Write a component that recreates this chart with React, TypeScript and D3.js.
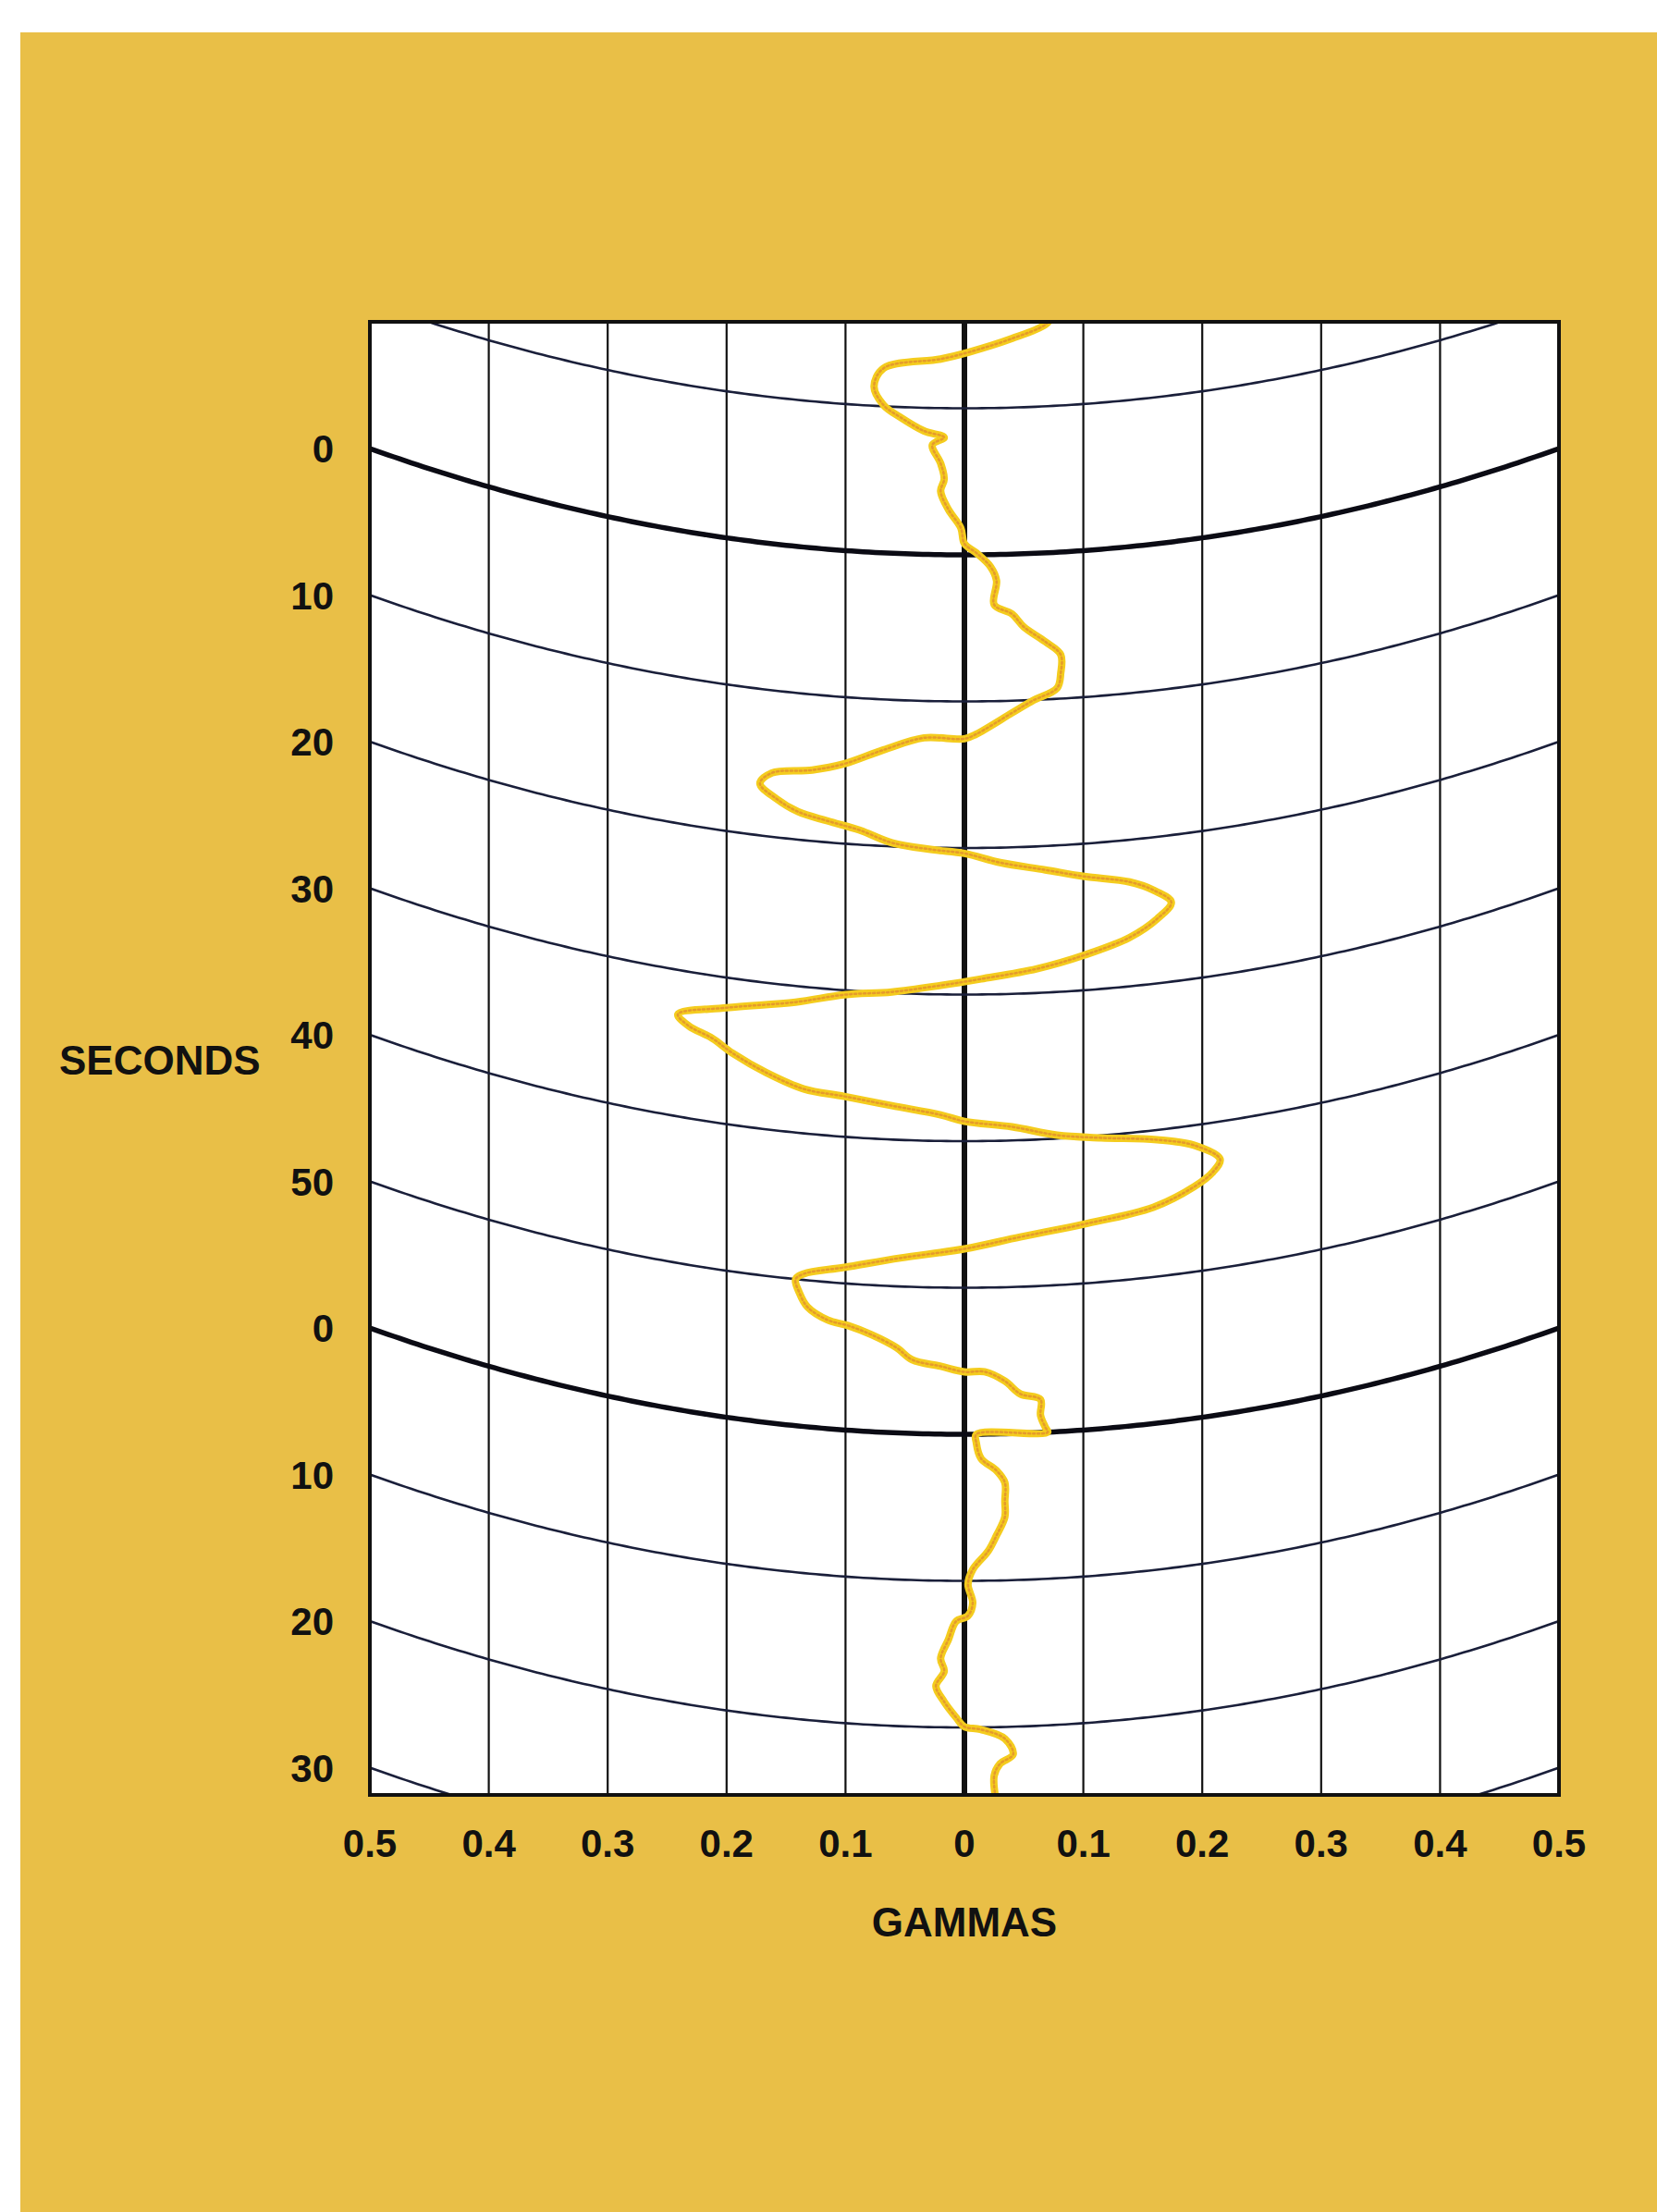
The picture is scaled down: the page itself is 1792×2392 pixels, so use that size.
import React from "react";
import * as d3 from "d3";

const W = 1792;
const H = 2392;

// Axis values
const gammaTicks = [-0.5, -0.4, -0.3, -0.2, -0.1, 0, 0.1, 0.2, 0.3, 0.4, 0.5];
const gammaTickLabels = ["0.5", "0.4", "0.3", "0.2", "0.1", "0", "0.1", "0.2", "0.3", "0.4", "0.5"];
const secondTicks = [0, 10, 20, 30, 40, 50, 60, 70, 80, 90];
const secondTickLabels = ["0", "10", "20", "30", "40", "50", "0", "10", "20", "30"];
const arcTimes = [-10, 0, 10, 20, 30, 40, 50, 60, 70, 80, 90];
const boldArcTimes = [0, 60];

// Recorded trace (gamma, seconds along the curved time grid)
const traceGamma = [
  0.075, 0.068, 0.04, 0.003, -0.02, -0.068, -0.076, -0.068, -0.054, -0.034, -0.017, -0.027, -0.02, -0.017, -0.02,
  -0.0135, -0.003, 0, 0.01, 0.022, 0.027, 0.025, 0.04, 0.05, 0.068, 0.081, 0.081, 0.078, 0.057, 0.04,
  0.01, 0, -0.034, -0.068, -0.101, -0.128, -0.162, -0.172, -0.158, -0.14, -0.115, -0.088, -0.061, -0.027, 0,
  0.03, 0.068, 0.101, 0.139, 0.159, 0.174, 0.162, 0.139, 0.101, 0.061, 0.014, -0.02, -0.061, -0.101, -0.142,
  -0.2, -0.241, -0.232, -0.212, -0.195, -0.166, -0.135, -0.101, -0.061, -0.02, 0, 0.04, 0.078, 0.115, 0.162,
  0.193, 0.215, 0.209, 0.193, 0.159, 0.101, 0.047, 0, -0.054, -0.101, -0.135, -0.142, -0.139, -0.132, -0.115,
  -0.098, -0.078, -0.057, -0.044, -0.02, 0, 0.017, 0.034, 0.047, 0.064, 0.064, 0.068, 0.07, 0.01, 0.01,
  0.014, 0.027, 0.034, 0.034, 0.034, 0.027, 0.02, 0.007, 0.003, 0.007, 0.003, -0.007, -0.0135, -0.02, -0.017,
  -0.024, -0.017, -0.007, 0, 0.0135, 0.034, 0.041, 0.03, 0.025, 0.027,
];
const traceSeconds = [
  -16.2, -15.57, -14.71, -13.81, -13.35, -12.6, -11.31, -10.08, -9.31, -8.42, -8.0, -7.48, -6.23, -5.16, -4.34,
  -3.09, -1.83, -0.76, -0.13, 0.83, 1.78, 3.42, 4.08, 4.99, 6.06, 7.0, 8.26, 9.26, 10.06, 10.83,
  12.23, 12.55, 12.52, 13.44, 14.55, 15.16, 15.64, 16.46, 17.37, 18.09, 18.54, 19.01, 19.75, 20.13, 20.37,
  21.02, 21.63, 22.24, 22.88, 23.61, 24.58, 25.6, 26.66, 27.6, 28.35, 28.94, 29.39, 29.93, 30.31, 31.1,
  32.06, 33.03, 33.69, 34.29, 35.1, 36.15, 36.97, 37.24, 37.69, 38.22, 38.65, 39.07, 39.77, 40.16, 40.67,
  41.36, 42.57, 43.37, 44.2, 45.24, 45.95, 46.6, 47.35, 48.06, 48.91, 49.58, 50.01, 50.87, 51.82, 52.59,
  52.86, 53.39, 54.19, 54.97, 55.37, 55.74, 55.74, 56.4, 57.31, 57.75, 58.82, 59.65, 60.0, 60.0, 60.59,
  61.66, 62.5, 63.33, 64.6, 65.67, 66.92, 67.98, 69.23, 70.24, 71.5, 72.38, 72.76, 74.02, 75.3, 76.18,
  77.19, 78.26, 79.32, 79.95, 80.14, 80.8, 81.89, 82.5, 83.31, 85.2,
];

const PLOT = { left: 400, right: 1686, top: 348, bottom: 1941 };
const SAG = 115; // px dip of a time line at the centre of the chart
const FONT = "'Liberation Sans', Arial, Helvetica, sans-serif";

export default function App() {
  const x = d3.scaleLinear().domain([-0.5, 0.5]).range([PLOT.left, PLOT.right]);
  const y = d3.scaleLinear().domain([0, 90]).range([485, 485 + 90 * 15.85]);
  const sag = (g: number) => SAG * (1 - (2 * g) * (2 * g));
  const pos = (g: number, t: number): [number, number] => [x(g), y(t) + sag(g)];

  const samples = d3.range(-0.5, 0.50001, 0.005);
  const line = d3.line<[number, number]>().x((d) => d[0]).y((d) => d[1]);
  const traceLine = d3
    .line<[number, number]>()
    .x((d) => d[0])
    .y((d) => d[1])
    .curve(d3.curveCatmullRom.alpha(0.5));

  const tracePts = traceGamma.map((g, i) => pos(g, traceSeconds[i]));

  return (
    <svg
      width={W}
      height={H}
      style={{ position: "absolute", left: 0, top: 0, display: "block", background: "#ffffff" }}
    >
      <defs>
        <clipPath id="plotclip">
          <rect x={PLOT.left} y={PLOT.top} width={PLOT.right - PLOT.left} height={PLOT.bottom - PLOT.top} />
        </clipPath>
      </defs>
      <rect x={22} y={35} width={W - 22} height={H - 35} fill="#E9BF47" />
      <rect
        x={PLOT.left}
        y={PLOT.top}
        width={PLOT.right - PLOT.left}
        height={PLOT.bottom - PLOT.top}
        fill="#ffffff"
      />
      <g clipPath="url(#plotclip)">
        {gammaTicks.slice(1, -1).map((g) => (
          <line
            key={"v" + g}
            x1={x(g)}
            x2={x(g)}
            y1={PLOT.top}
            y2={PLOT.bottom}
            stroke="#111111"
            strokeWidth={g === 0 ? 6 : 2.2}
          />
        ))}
        {arcTimes.map((t) => (
          <path
            key={"a" + t}
            d={line(samples.map((g) => pos(g, t))) || ""}
            fill="none"
            stroke={boldArcTimes.includes(t) ? "#0b0b14" : "#1a1f3a"}
            strokeWidth={boldArcTimes.includes(t) ? 5.5 : 2.6}
          />
        ))}
        <path d={traceLine(tracePts) || ""} fill="none" stroke="#F4CC1E" strokeWidth={8} strokeLinejoin="round" strokeLinecap="round" />
        <path d={traceLine(tracePts) || ""} fill="none" stroke="#E59A2C" strokeWidth={2.5} strokeLinejoin="round" strokeLinecap="round" strokeDasharray="2 3" />
      </g>
      <rect
        x={PLOT.left}
        y={PLOT.top}
        width={PLOT.right - PLOT.left}
        height={PLOT.bottom - PLOT.top}
        fill="none"
        stroke="#111111"
        strokeWidth={4}
      />
      {secondTicks.map((t, i) => (
        <text
          key={"yl" + t}
          x={361}
          y={y(t) + 0.358 * 42}
          textAnchor="end"
          fontFamily={FONT}
          fontWeight="bold"
          fontSize={42}
          fill="#111111"
        >
          {secondTickLabels[i]}
        </text>
      ))}
      {gammaTicks.map((g, i) => (
        <text
          key={"xl" + i}
          x={x(g)}
          y={1993 + 0.358 * 42}
          textAnchor="middle"
          fontFamily={FONT}
          fontWeight="bold"
          fontSize={42}
          fill="#111111"
        >
          {gammaTickLabels[i]}
        </text>
      ))}
      <text x={64} y={1146 + 0.358 * 44} fontFamily={FONT} fontWeight="bold" fontSize={44} fill="#111111">
        SECONDS
      </text>
      <text
        x={x(0)}
        y={2078 + 0.358 * 44}
        textAnchor="middle"
        fontFamily={FONT}
        fontWeight="bold"
        fontSize={44}
        fill="#111111"
      >
        GAMMAS
      </text>
    </svg>
  );
}
